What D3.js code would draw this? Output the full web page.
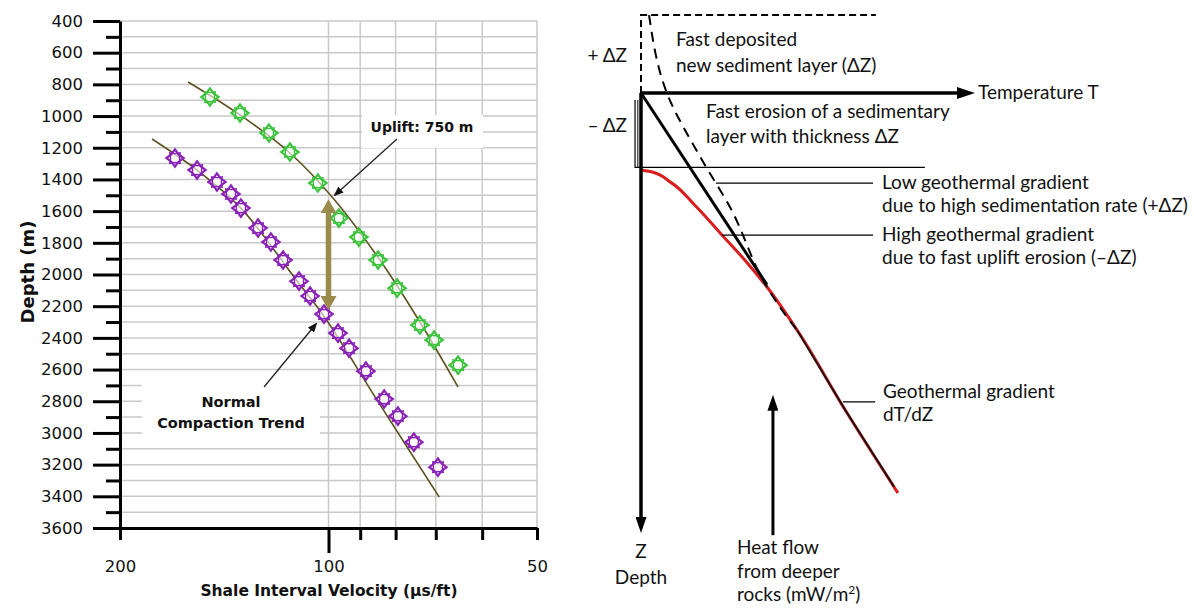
<!DOCTYPE html>
<html>
<head>
<meta charset="utf-8">
<script src="https://d3js.org/d3.v7.min.js"></script>
<style>
body { margin: 0; background: #fff; }
.grid line { stroke: #c9c9c9; stroke-width: 1.5; }
.axis path, .axis line { stroke: #000; stroke-width: 3; }
.axis text { font-family: "DejaVu Sans", sans-serif; font-size: 16.5px; fill: #111; }
.lbl { font-family: "DejaVu Sans", sans-serif; font-weight: bold; fill: #111; }
.sk { font-family: Lato, "Noto Sans", sans-serif; font-size: 19px; fill: #111; }
</style>
</head>
<body>
<svg id="chart" width="1194" height="608"></svg>
<script>
// ---- left panel: shale interval velocity vs depth ----
var depthTicks = d3.range(400, 3601, 200);
var depthMinor = d3.range(500, 3600, 200);
var gridDepths = d3.range(400, 3600, 100);
var velMinor = [200, 90, 80, 70, 60, 50];
var velLabels = [200, 100, 50];
var velGrid = [100, 90, 80, 70, 60, 50];

// uplifted well (green)
var upDepth = [880, 981, 1107, 1227, 1423, 1644, 1764, 1909, 2086, 2319, 2414, 2572];
var upVel = [148.3, 134.2, 121.9, 113.7, 103.6, 96.6, 90.4, 84.8, 79.6, 73.8, 70.4, 65.0];
// normal compaction well (purple)
var ncDepth = [1265, 1341, 1416, 1492, 1581, 1707, 1795, 1909, 2042, 2136, 2250, 2370, 2465, 2610, 2786, 2894, 3058, 3216];
var ncVel = [166.6, 154.8, 144.9, 138.3, 133.8, 126.4, 121.1, 116.3, 110.3, 106.3, 101.5, 96.9, 93.4, 88.3, 83.1, 79.4, 75.3, 69.5];
// fitted trends
var upTrendDepth = [785, 993, 1233, 1511, 1909, 2300, 2711];
var upTrendVel = [159.5, 134.2, 113.7, 98.8, 84.3, 73.8, 65.0];
var ncTrendDepth = [1145, 1341, 1581, 2048, 2256, 2831, 3405];
var ncTrendVel = [179.8, 154.8, 133.8, 110.7, 101.8, 84.0, 69.2];
// uplift arrow (at 100 us/ft)
var upliftVel = 100, upliftFrom = 2250, upliftTo = 1500;

// ---- right panel: schematic geotherm (T, Z in arbitrary units) ----
var dZ = 17.7;
var solidT = [0, 36], solidZ = [0, 43.6];
var dashT = [2.3, 7.4, 16.9, 25.4, 36.0, 41.7, 44.6];
var dashZ = [-17.7, 0, 14.5, 25.9, 44.1, 50.9, 53.9];
var deepT = [44.6, 58.3, 72.3];
var deepZ = [53.9, 72.0, 89.5];
var redT = [0, 3.4, 8.3, 15.4, 22.6, 29.7, 36, 44.6, 58.3, 73.4];
var redZ = [17.5, 18, 20.2, 25.5, 31.8, 38, 44.1, 53.9, 72, 90.9];

var svg = d3.select("#chart");
var defs = svg.append("defs");
function marker(id, w, h, ref, color) {
  defs.append("marker").attr("id", id)
    .attr("markerUnits", "userSpaceOnUse")
    .attr("markerWidth", w).attr("markerHeight", h)
    .attr("viewBox", "0 0 " + w + " " + h)
    .attr("refX", ref).attr("refY", h / 2)
    .attr("orient", "auto-start-reverse")
    .append("path").attr("d", "M0,0L" + w + "," + h / 2 + "L0," + h + "Z")
    .attr("fill", color);
}
marker("aSmall", 10, 8, 8, "#111");
marker("aOlive", 14, 16, 4, "#9a8a4c");
marker("aBig", 18, 12, 4, "#000");
marker("aMid", 16, 11, 4, "#000");

// scales left
var x = d3.scaleLog().domain([200, 50]).range([120, 537]);
var y = d3.scaleLinear().domain([400, 3600]).range([21, 528]);

var g = svg.append("g");
g.append("g").attr("class", "grid").selectAll("line").data(gridDepths).enter().append("line")
  .attr("x1", 120).attr("x2", x(50)).attr("y1", function(d) { return y(d); }).attr("y2", function(d) { return y(d); });
g.append("g").attr("class", "grid").selectAll("line").data(velGrid).enter().append("line")
  .attr("x1", function(d) { return x(d); }).attr("x2", function(d) { return x(d); }).attr("y1", y(400)).attr("y2", y(3600));

// label boxes cut the grid
g.append("rect").attr("x", 362).attr("y", 115).attr("width", 121).attr("height", 33).attr("fill", "#fff");
g.append("rect").attr("x", 142).attr("y", 377).attr("width", 178).attr("height", 64).attr("fill", "#fff");

// axes
g.append("g").attr("class", "axis").attr("transform", "translate(120,0)")
  .call(d3.axisLeft(y).tickValues(depthTicks).tickSize(27).tickPadding(10).tickSizeOuter(0).tickFormat(d3.format("d")));
g.append("g").attr("class", "axis").attr("transform", "translate(120,0)")
  .call(d3.axisLeft(y).tickValues(depthMinor).tickSize(14).tickFormat("").tickSizeOuter(0))
  .select(".domain").remove();
g.append("g").attr("class", "axis").attr("transform", "translate(0,528)")
  .call(d3.axisBottom(x).tickValues(velMinor).tickSize(12).tickFormat("").tickSizeOuter(0));
g.append("g").attr("class", "axis").attr("transform", "translate(0,528)")
  .call(d3.axisBottom(x).tickValues([100]).tickSize(25).tickFormat("").tickSizeOuter(0))
  .select(".domain").remove();
var xl = g.append("g").attr("class", "axis").attr("transform", "translate(0,528)")
  .call(d3.axisBottom(x).tickValues(velLabels).tickSize(0).tickPadding(32).tickFormat(d3.format("d")));
xl.select(".domain").remove();

g.append("text").attr("class", "lbl").attr("font-size", 18)
  .attr("transform", "translate(34,272) rotate(-90)").attr("text-anchor", "middle").text("Depth (m)");
g.append("text").attr("class", "lbl").attr("font-size", 15.5)
  .attr("x", 329).attr("y", 596).attr("text-anchor", "middle").text("Shale Interval Velocity (\u00b5s/ft)");

// trend lines
var trend = d3.line().x(function(d) { return x(d[0]); }).y(function(d) { return y(d[1]); }).curve(d3.curveCatmullRom);
g.append("path").datum(d3.zip(upTrendVel, upTrendDepth)).attr("d", trend)
  .attr("fill", "none").attr("stroke", "#5e5120").attr("stroke-width", 1.6);
g.append("path").datum(d3.zip(ncTrendVel, ncTrendDepth)).attr("d", trend)
  .attr("fill", "none").attr("stroke", "#5e5120").attr("stroke-width", 1.6);

// sparkle markers
var sparkle = {
  draw: function(ctx, size) {
    var r = Math.sqrt(size) / 2, q = r * 0.42;
    ctx.moveTo(0, -r); ctx.lineTo(q, -q); ctx.lineTo(r, 0); ctx.lineTo(q, q);
    ctx.lineTo(0, r); ctx.lineTo(-q, q); ctx.lineTo(-r, 0); ctx.lineTo(-q, -q); ctx.closePath();
  }
};
function drawPts(vels, depths, color) {
  var pts = g.append("g").selectAll("g").data(d3.zip(vels, depths)).enter().append("g")
    .attr("transform", function(d) { return "translate(" + x(d[0]) + "," + y(d[1]) + ")"; });
  pts.append("path").attr("d", d3.symbol().type(sparkle).size(300))
    .attr("fill", "#fff").attr("fill-opacity", 0.6)
    .attr("stroke", color).attr("stroke-width", 2.2).attr("stroke-linejoin", "miter");
  pts.append("path").attr("d", d3.symbol().type(sparkle).size(220))
    .attr("transform", "rotate(45)")
    .attr("fill", "none").attr("stroke", color).attr("stroke-width", 1.4);
}
drawPts(upVel, upDepth, "#3cc43c");
drawPts(ncVel, ncDepth, "#8a22b8");

// uplift arrow
g.append("line").attr("x1", x(upliftVel)).attr("x2", x(upliftVel))
  .attr("y1", y(upliftFrom) - 14).attr("y2", y(upliftTo) + 14)
  .attr("stroke", "#9a8a4c").attr("stroke-width", 5.5)
  .attr("marker-start", "url(#aOlive)").attr("marker-end", "url(#aOlive)");

// annotations
g.append("text").attr("class", "lbl").attr("font-size", 14).attr("x", 422).attr("y", 132)
  .attr("text-anchor", "middle").text("Uplift: 750 m");
g.append("line").attr("x1", 397).attr("y1", 139).attr("x2", 335).attr("y2", 195)
  .attr("stroke", "#222").attr("stroke-width", 1.3).attr("marker-end", "url(#aSmall)");
g.append("text").attr("class", "lbl").attr("font-size", 14.5).attr("x", 231).attr("y", 407)
  .attr("text-anchor", "middle").text("Normal");
g.append("text").attr("class", "lbl").attr("font-size", 14.5).attr("x", 231).attr("y", 428)
  .attr("text-anchor", "middle").text("Compaction Trend");
g.append("line").attr("x1", 264).attr("y1", 387).attr("x2", 316).attr("y2", 324)
  .attr("stroke", "#222").attr("stroke-width", 1.3).attr("marker-end", "url(#aSmall)");

// ---- right panel ----
var tS = d3.scaleLinear().domain([0, 100]).range([641, 991]);
var zS = d3.scaleLinear().domain([0, 100]).range([93, 533]);
var r = svg.append("g");
var pl = d3.line().x(function(d) { return tS(d[0]); }).y(function(d) { return zS(d[1]); });
var plc = d3.line().x(function(d) { return tS(d[0]); }).y(function(d) { return zS(d[1]); }).curve(d3.curveMonotoneY);

// +dZ dashed layer
r.append("path").datum([[0, 0], [0, -dZ], [67.1, -dZ]]).attr("d", pl)
  .attr("fill", "none").attr("stroke", "#000").attr("stroke-width", 2).attr("stroke-dasharray", "7,4");
// -dZ eroded layer bracket
r.append("path").datum([[-1.7, 1.6], [-1.7, dZ - 0.8], [81.1, dZ - 0.8]]).attr("d", pl)
  .attr("fill", "none").attr("stroke", "#000").attr("stroke-width", 1.2);
r.append("line").attr("x1", tS(-0.9)).attr("x2", tS(-0.9)).attr("y1", zS(1.6)).attr("y2", zS(dZ - 0.8))
  .attr("stroke", "#000").attr("stroke-width", 1);

// red geotherm
r.append("path").datum(d3.zip(redT, redZ)).attr("d", plc)
  .attr("fill", "none").attr("stroke", "#d81e1e").attr("stroke-width", 3);
// deep common gradient
r.append("path").datum(d3.zip(deepT, deepZ)).attr("d", pl)
  .attr("fill", "none").attr("stroke", "#111").attr("stroke-width", 1.8);
// dashed low-gradient curve
r.append("path").datum(d3.zip(dashT, dashZ)).attr("d", plc)
  .attr("fill", "none").attr("stroke", "#000").attr("stroke-width", 2).attr("stroke-dasharray", "10,7");
// solid high-gradient line
r.append("path").datum(d3.zip(solidT, solidZ)).attr("d", pl)
  .attr("fill", "none").attr("stroke", "#000").attr("stroke-width", 3);

// axes of schematic
r.append("line").attr("x1", tS(0)).attr("x2", tS(95.4) - 14).attr("y1", zS(0)).attr("y2", zS(0))
  .attr("stroke", "#000").attr("stroke-width", 3.5).attr("marker-end", "url(#aBig)");
r.append("line").attr("x1", tS(0)).attr("x2", tS(0)).attr("y1", zS(0)).attr("y2", zS(100) - 12)
  .attr("stroke", "#000").attr("stroke-width", 3.5).attr("marker-end", "url(#aMid)");
// heat flow arrow
r.append("line").attr("x1", tS(37.7)).attr("x2", tS(37.7)).attr("y1", zS(100.5)).attr("y2", zS(68.6) + 12)
  .attr("stroke", "#000").attr("stroke-width", 3).attr("marker-end", "url(#aMid)");

// leader lines
var leaders = [[21.4, 66.3, 20.5], [23.1, 66.3, 32.3], [57.7, 66.9, 70.2]];
r.selectAll(".ld").data(leaders).enter().append("line")
  .attr("x1", function(d) { return tS(d[0]); }).attr("x2", function(d) { return tS(d[1]); })
  .attr("y1", function(d) { return zS(d[2]); }).attr("y2", function(d) { return zS(d[2]); })
  .attr("stroke", "#000").attr("stroke-width", 1.2);

function sk(txt, xx, yy, anchor) {
  return r.append("text").attr("class", "sk").attr("x", xx).attr("y", yy)
    .attr("text-anchor", anchor || "start").text(txt);
}
sk("+ \u0394Z", 627, 62, "end");
sk("\u2013 \u0394Z", 627, 132, "end");
sk("Fast deposited", 676, 46);
sk("new sediment layer (\u0394Z)", 676, 72);
sk("Fast erosion of a sedimentary", 706, 118);
sk("layer with thickness \u0394Z", 706, 143);
sk("Temperature T", 978, 99);
sk("Low geothermal gradient", 882, 189);
sk("due to high sedimentation rate (+\u0394Z)", 882, 212);
sk("High geothermal gradient", 882, 241);
sk("due to fast uplift erosion (\u2013\u0394Z)", 882, 264);
sk("Geothermal gradient", 883, 398);
sk("dT/dZ", 883, 421);
sk("Z", 641, 558, "middle");
sk("Depth", 641, 584, "middle");
sk("Heat flow", 737, 554);
sk("from deeper", 737, 578);
var rk = sk("rocks (mW/m", 737, 601);
rk.append("tspan").attr("dy", -7).attr("font-size", 12).text("2");
rk.append("tspan").attr("dy", 7).text(")");
</script>
</body>
</html>
